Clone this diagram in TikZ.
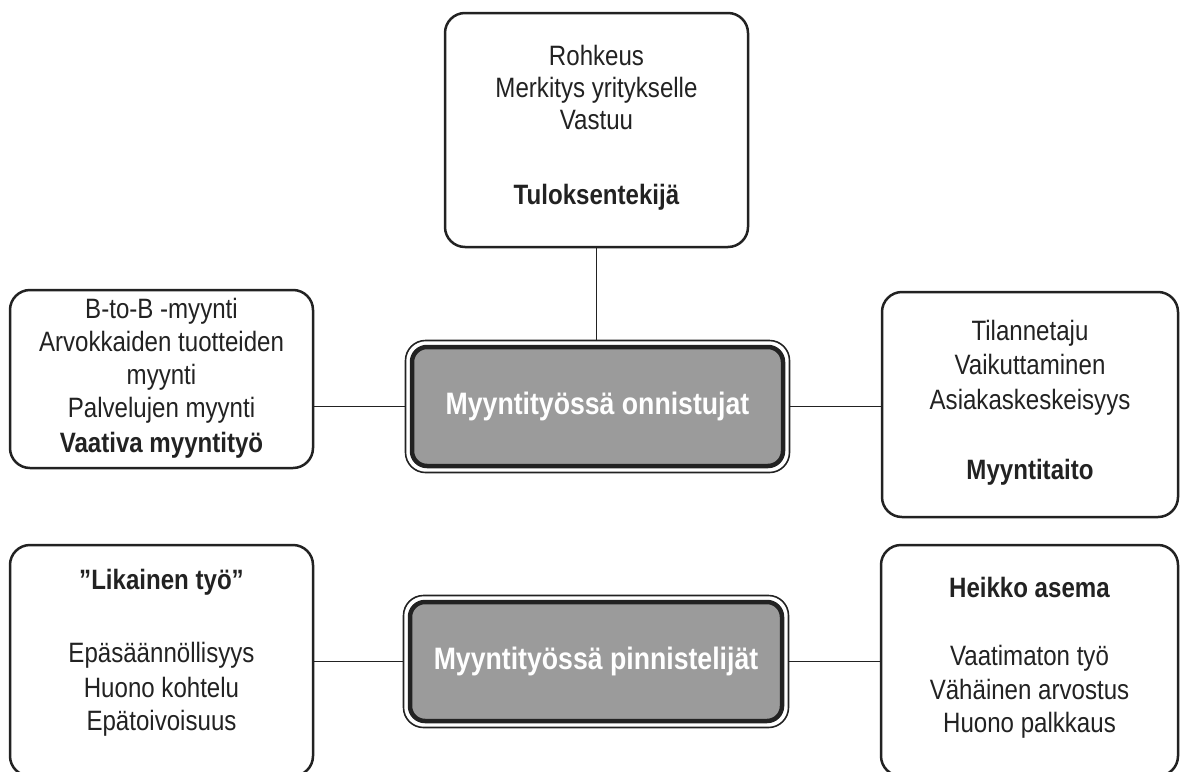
\documentclass[tikz,border=0pt]{standalone}
\usepackage{fontspec}
\setmainfont{Liberation Sans}[FakeStretch=0.86]
\definecolor{ink}{HTML}{222222}
\definecolor{hubgray}{HTML}{9B9B9B}
\begin{document}
\begin{tikzpicture}[x=1pt,y=-1pt,
  box/.style={draw=ink, line width=2.5pt, rounded corners=20pt, inner sep=0pt, fill=white},
  txt/.style={align=center, inner sep=0pt, text=ink, font=\fontsize{28}{33}\selectfont},
  link/.style={draw=ink, line width=1.5pt},
  hubouter/.style={draw=ink, line width=1.6pt, rounded corners=20pt, fill=white, inner sep=0pt},
  hubinner/.style={draw=ink, line width=4.5pt, rounded corners=15pt, fill=hubgray, inner sep=0pt,
    text=white, font=\fontsize{31}{36}\selectfont\bfseries},
]
\useasboundingbox (0,0) rectangle (1182,771);

% outer boxes
\node[box, minimum width=303pt, minimum height=234pt] (top) at (596.5,130) {};
\node[box, minimum width=303pt, minimum height=178pt] (l1) at (161.5,379) {};
\node[box, minimum width=296pt, minimum height=225pt] (r1) at (1030,404.5) {};
\node[box, minimum width=303pt, minimum height=231pt] (l2) at (161.5,660.5) {};
\node[box, minimum width=297pt, minimum height=231pt] (r2) at (1029.5,660.5) {};

% texts of the outer boxes
\node[txt] (toptxt) at (596.5,127.5)
  {Rohkeus\\[-1pt]Merkitys yritykselle\\[-1pt]Vastuu\\[42pt]\textbf{Tuloksentekijä}};
\node[txt] (l1txt) at (161.5,378)
  {B-to-B -myynti\\Arvokkaiden tuotteiden\\myynti\\Palvelujen myynti\\[2pt]\textbf{Vaativa myyntityö}};
\node[txt] (r1txt) at (1030,402.5)
  {Tilannetaju\\[1.5pt]Vaikuttaminen\\[1.5pt]Asiakaskeskeisyys\\[37pt]\textbf{Myyntitaito}};
\node[txt] (l2txt) at (161.5,652.5)
  {\textbf{”Likainen työ”}\\[40pt]Epäsäännöllisyys\\[2pt]Huono kohtelu\\Epätoivoisuus};
\node[txt] (r2txt) at (1029.5,657.5)
  {\textbf{Heikko asema}\\[35pt]Vaatimaton työ\\[1pt]Vähäinen arvostus\\Huono palkkaus};

% central hubs with a double frame
\node[hubouter, minimum width=384pt, minimum height=132pt] (hubA) at (597.5,406.5) {};
\node[hubinner, minimum width=371pt, minimum height=119pt] (hubAin) at (hubA.center) {Myyntityössä onnistujat};
\node[hubouter, minimum width=385pt, minimum height=132pt] (hubB) at (596,661.5) {};
\node[hubinner, minimum width=372pt, minimum height=119pt] (hubBin) at (hubB.center) {Myyntityössä pinnistelijät};

% connectors
\draw[link] (top.south) -- (top.south |- hubA.north);
\draw[link] (l1.east |- hubA.west) -- (hubA.west);
\draw[link] (hubA.east) -- (r1.west |- hubA.east);
\draw[link] (l2.east |- hubB.west) -- (hubB.west);
\draw[link] (hubB.east) -- (r2.west |- hubB.east);
\end{tikzpicture}
\end{document}
